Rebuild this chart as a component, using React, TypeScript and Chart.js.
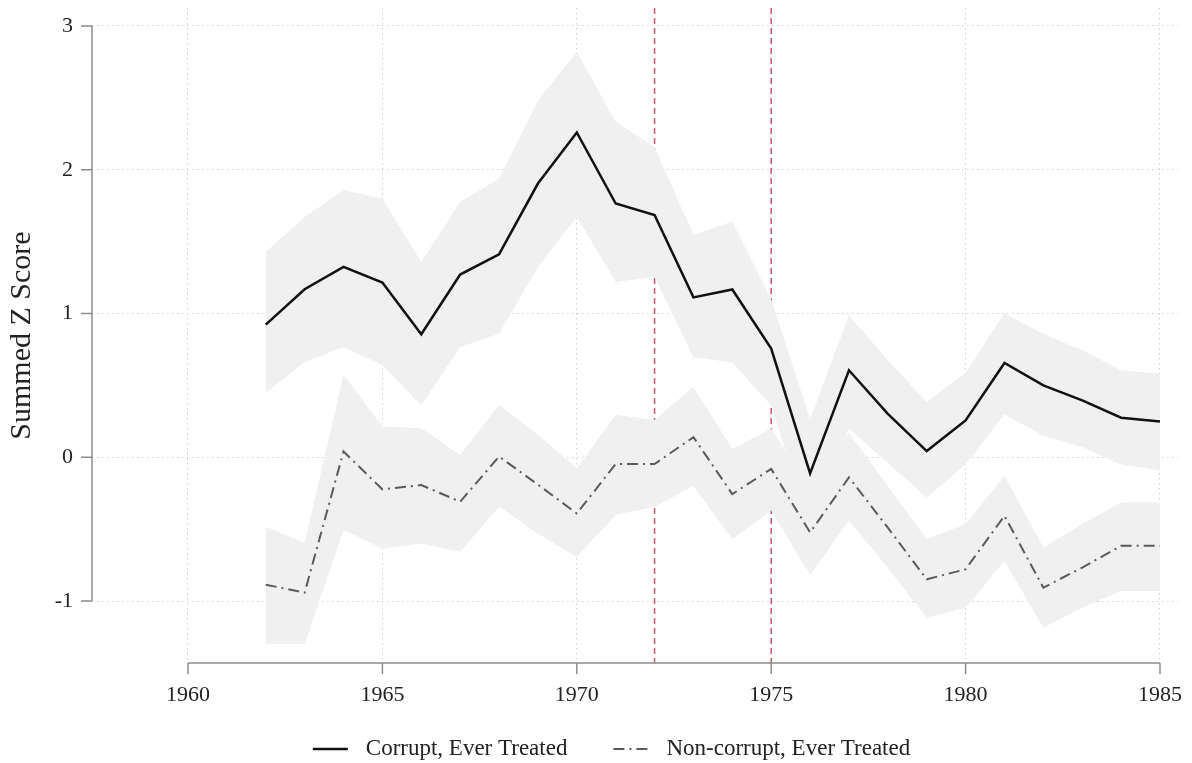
import { useEffect, useRef } from "react"
import { Chart, registerables } from "chart.js"

Chart.register(...registerables)

// Years with estimates
const years = [
  1962, 1963, 1964, 1965, 1966, 1967, 1968, 1969, 1970, 1971, 1972, 1973,
  1974, 1975, 1976, 1977, 1978, 1979, 1980, 1981, 1982, 1983, 1984, 1985,
]

// Corrupt, Ever Treated
const corrupt = [
  0.923, 1.169, 1.324, 1.215, 0.856, 1.271, 1.412, 1.904, 2.259, 1.765, 1.685, 1.112,
  1.167, 0.756, -0.112, 0.605, 0.302, 0.043, 0.256, 0.656, 0.5, 0.396, 0.275, 0.249,
]
const corruptUpper = [
  1.428, 1.672, 1.857, 1.8, 1.359, 1.776, 1.939, 2.48, 2.82, 2.333, 2.159, 1.547,
  1.64, 1.1, 0.267, 0.988, 0.674, 0.384, 0.59, 1.0, 0.86, 0.744, 0.605, 0.581,
]
const corruptLower = [
  0.445, 0.663, 0.767, 0.64, 0.36, 0.767, 0.86, 1.324, 1.672, 1.22, 1.254, 0.698,
  0.66, 0.36, -0.5, 0.2, -0.04, -0.28, -0.05, 0.3, 0.15, 0.07, -0.05, -0.09,
]

// Non-corrupt, Ever Treated
const nonCorrupt = [
  -0.886, -0.942, 0.04, -0.223, -0.193, -0.309, 0.005, -0.19, -0.391, -0.047, -0.047, 0.14,
  -0.256, -0.081, -0.523, -0.14, -0.49, -0.849, -0.779, -0.407, -0.907, -0.767, -0.616, -0.616,
]
const nonCorruptUpper = [
  -0.484, -0.595, 0.574, 0.214, 0.202, 0.016, 0.365, 0.156, -0.077, 0.295, 0.26, 0.488,
  0.058, 0.2, -0.23, 0.17, -0.2, -0.57, -0.465, -0.128, -0.628, -0.465, -0.314, -0.314,
]
const nonCorruptLower = [
  -1.298, -1.298, -0.507, -0.635, -0.6, -0.658, -0.344, -0.53, -0.693, -0.402, -0.344, -0.2,
  -0.57, -0.37, -0.82, -0.44, -0.77, -1.116, -1.047, -0.72, -1.186, -1.047, -0.93, -0.93,
]

const xTicks = [1960, 1965, 1970, 1975, 1980, 1985]
const yTicks = [-1, 0, 1, 2, 3]
const eventYears = [1972, 1975]

const serif = "'Liberation Serif', 'Times New Roman', serif"
const bandColor = "#f0f0f0"
const axisColor = "#8c8c8c"
const gridColor = "#cfcfcf"
const textColor = "#222222"

const toPoints = (vals: number[]) => years.map((x, i) => ({ x, y: vals[i] }))

// Stata-like axes (lines only over the tick range), event markers and the legend
const stataDecor = {
  id: "stataDecor",
  beforeDatasetsDraw(chart: any) {
    const { ctx, chartArea, scales } = chart
    ctx.save()
    ctx.strokeStyle = "#c9566b"
    ctx.lineWidth = 1.5
    ctx.setLineDash([6, 4])
    eventYears.forEach((yr) => {
      const px = scales.x.getPixelForValue(yr)
      ctx.beginPath()
      ctx.moveTo(px, chartArea.top)
      ctx.lineTo(px, chartArea.bottom)
      ctx.stroke()
    })
    ctx.restore()
  },
  afterDraw(chart: any) {
    const { ctx, chartArea, scales } = chart
    const xs = scales.x
    const ys = scales.y
    const bottom = chartArea.bottom
    const left = chartArea.left
    ctx.save()
    ctx.strokeStyle = axisColor
    ctx.lineWidth = 1.5
    ctx.beginPath()
    ctx.moveTo(xs.getPixelForValue(xTicks[0]), bottom)
    ctx.lineTo(xs.getPixelForValue(xTicks[xTicks.length - 1]), bottom)
    xTicks.forEach((t) => {
      const px = xs.getPixelForValue(t)
      ctx.moveTo(px, bottom)
      ctx.lineTo(px, bottom + 11)
    })
    ctx.moveTo(left, ys.getPixelForValue(yTicks[0]))
    ctx.lineTo(left, ys.getPixelForValue(yTicks[yTicks.length - 1]))
    yTicks.forEach((t) => {
      const py = ys.getPixelForValue(t)
      ctx.moveTo(left, py)
      ctx.lineTo(left - 11, py)
    })
    ctx.stroke()

    // legend
    const items = chart.data.datasets.filter((d: any) => d.label)
    const sampleW = 35
    const textGap = 18
    const itemGap = 46
    ctx.font = `23px ${serif}`
    ctx.textBaseline = "middle"
    ctx.textAlign = "left"
    const widths = items.map((d: any) => ctx.measureText(d.label).width)
    const total =
      widths.reduce((s: number, w: number) => s + sampleW + textGap + w, 0) +
      itemGap * (items.length - 1)
    let x = 611.5 - total / 2
    const y = bottom + 86
    items.forEach((d: any, i: number) => {
      ctx.strokeStyle = d.borderColor
      ctx.lineWidth = d.borderWidth
      ctx.setLineDash(d.borderDash || [])
      ctx.beginPath()
      ctx.moveTo(x, y)
      ctx.lineTo(x + sampleW, y)
      ctx.stroke()
      ctx.fillStyle = textColor
      ctx.fillText(d.label, x + sampleW + textGap, y)
      x += sampleW + textGap + widths[i] + itemGap
    })
    ctx.restore()
  },
}

function ZScoreChart() {
  const chartRef = useRef<HTMLCanvasElement>(null)
  const chartInstance = useRef<Chart | null>(null)

  useEffect(() => {
    if (!chartRef.current) return
    if (chartInstance.current) {
      chartInstance.current.destroy()
    }
    const ctx = chartRef.current.getContext("2d")
    if (!ctx) return

    const band = (vals: number[], fill: any) => ({
      label: "",
      data: toPoints(vals),
      borderWidth: 0,
      borderColor: "rgba(0,0,0,0)",
      backgroundColor: bandColor,
      pointRadius: 0,
      fill,
      order: 2,
    })

    chartInstance.current = new Chart(ctx, {
      type: "line",
      data: {
        datasets: [
          band(corruptUpper, "+1"),
          band(corruptLower, false),
          band(nonCorruptUpper, "+1"),
          band(nonCorruptLower, false),
          {
            label: "Corrupt, Ever Treated",
            data: toPoints(corrupt),
            borderColor: "#111111",
            backgroundColor: "#111111",
            borderWidth: 2.5,
            pointRadius: 0,
            fill: false,
            order: 0,
          },
          {
            label: "Non-corrupt, Ever Treated",
            data: toPoints(nonCorrupt),
            borderColor: "#5a5a5a",
            backgroundColor: "#5a5a5a",
            borderWidth: 2,
            borderDash: [11, 5, 2, 5],
            pointRadius: 0,
            fill: false,
            order: 0,
          },
        ] as any,
      },
      options: {
        animation: false,
        responsive: true,
        maintainAspectRatio: false,
        layout: { padding: { left: 0, right: 14, top: 8, bottom: 0 } },
        scales: {
          x: {
            type: "linear",
            min: 1957.531,
            max: 1985.463,
            afterBuildTicks: (s: any) => {
              s.ticks = xTicks.map((value) => ({ value }))
            },
            afterFit: (s: any) => {
              s.height = 100
            },
            ticks: {
              font: { family: serif, size: 22 },
              color: textColor,
              padding: 0,
              maxRotation: 0,
              autoSkip: false,
              callback: (v: any) => String(v),
            },
            grid: {
              color: gridColor,
              lineWidth: 1,
              drawTicks: true,
              tickLength: 19,
              tickColor: "rgba(0,0,0,0)",
            },
            border: { display: false, dash: [1.5, 3.5] },
          },
          y: {
            type: "linear",
            min: -1.431,
            max: 3.125,
            afterBuildTicks: (s: any) => {
              s.ticks = yTicks.map((value) => ({ value }))
            },
            afterFit: (s: any) => {
              s.width = 92
            },
            ticks: {
              font: { family: serif, size: 22, lineHeight: 0.1 },
              color: textColor,
              padding: 0,
              autoSkip: false,
              callback: (v: any) => String(v),
            },
            title: {
              display: true,
              text: "Summed Z Score",
              font: { family: serif, size: 30, lineHeight: 1.1 },
              color: textColor,
              padding: { top: 6, bottom: 0 },
            },
            grid: {
              color: gridColor,
              lineWidth: 1,
              drawTicks: true,
              tickLength: 19,
              tickColor: "rgba(0,0,0,0)",
            },
            border: { display: false, dash: [1.5, 3.5] },
          },
        },
        plugins: {
          legend: { display: false },
          tooltip: { enabled: false },
        },
      },
      plugins: [stataDecor],
    })

    return () => {
      if (chartInstance.current) {
        chartInstance.current.destroy()
        chartInstance.current = null
      }
    }
  }, [])

  return <canvas ref={chartRef} />
}

export default function App() {
  return (
    <div style={{ position: "fixed", left: 0, top: 0, width: 1192, height: 763 }}>
      <ZScoreChart />
    </div>
  )
}
